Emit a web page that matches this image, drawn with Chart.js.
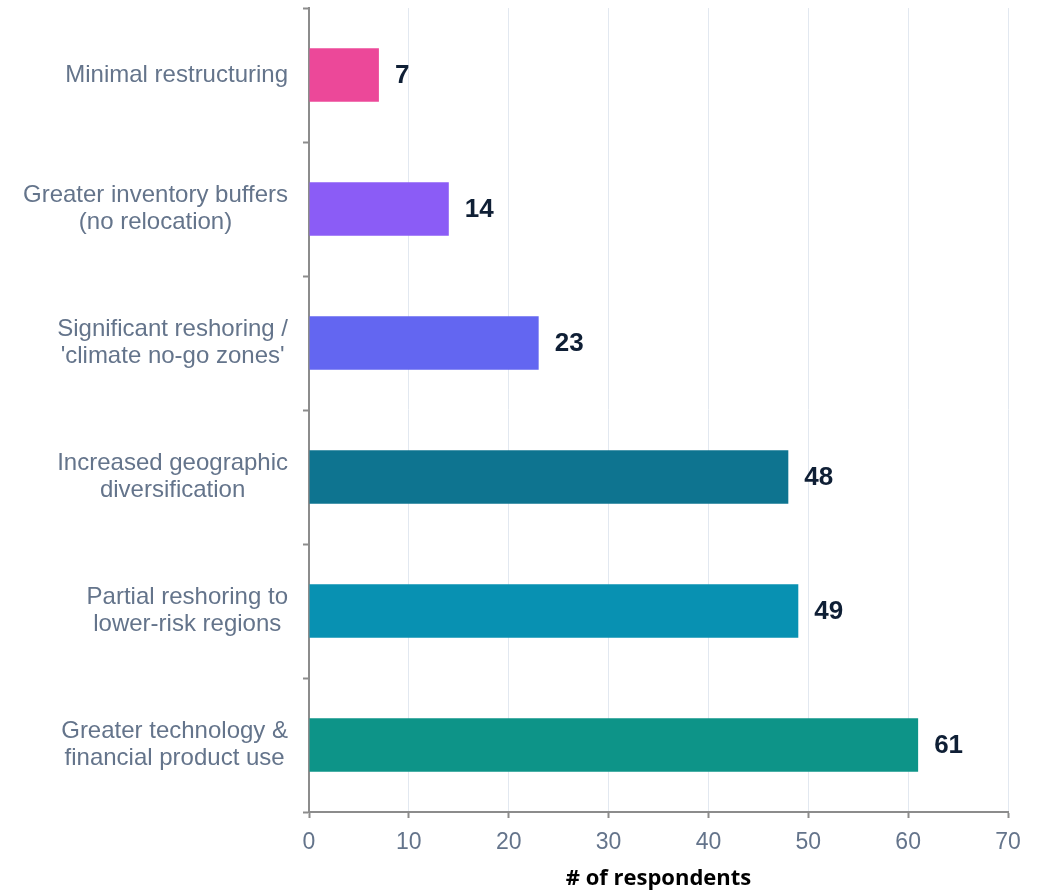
<!DOCTYPE html>
<html>
<head>
<meta charset="utf-8">
<script src="https://cdn.jsdelivr.net/npm/chart.js@4"></script>
<style>
  html, body { margin: 0; padding: 0; background: #fff; }
  #wrap { width: 1043px; height: 892px; }
</style>
</head>
<body>
<div id="wrap"><canvas id="strategyChart"></canvas></div>
<script>
// categories, top to bottom
const categories = [
    ['Minimal restructuring'],
    ['Greater inventory buffers', '(no relocation)'],
    ['Significant reshoring /', "'climate no-go zones'"],
    ['Increased geographic', 'diversification'],
    ['Partial reshoring to', 'lower-risk regions'],
    ['Greater technology &', 'financial product use']
];
const respondents = [7, 14, 23, 48, 49, 61];
const barColors = ['#ec4899', '#8b5cf6', '#6366f1', '#0e7490', '#0891b2', '#0d9488'];
const xTicks = [0, 10, 20, 30, 40, 50, 60, 70];

const axisGray = '#8c8c8c';
const labelGray = '#64748b';
const sansFamily = '"Liberation Sans", Arial, sans-serif';

// category labels: lines centred on each other, block right-aligned to the axis
const categoryLabels = {
    id: 'categoryLabels',
    afterDraw(chart) {
        const ctx = chart.ctx;
        const yScale = chart.scales.y;
        const right = yScale.right - 21;
        const lineH = 27;
        ctx.save();
        ctx.font = '24px ' + sansFamily;
        ctx.fillStyle = labelGray;
        ctx.textAlign = 'center';
        ctx.textBaseline = 'middle';
        categories.forEach(function(lines, i) {
            const yMid = yScale.getPixelForValue(i);
            const w = Math.max.apply(null, lines.map(l => ctx.measureText(l).width));
            const cx = right - w / 2;
            const y0 = yMid - (lines.length - 1) * lineH / 2;
            lines.forEach(function(line, j) {
                ctx.fillText(line, cx, y0 + j * lineH);
            });
        });
        ctx.restore();
    }
};

// value labels to the right of each bar
const valueLabels = {
    id: 'valueLabels',
    afterDatasetsDraw(chart) {
        const ctx = chart.ctx;
        const meta = chart.getDatasetMeta(0);
        ctx.save();
        ctx.font = 'bold 26px ' + sansFamily;
        ctx.fillStyle = '#0f1f35';
        ctx.textAlign = 'left';
        ctx.textBaseline = 'middle';
        meta.data.forEach(function(bar, i) {
            ctx.fillText(respondents[i], bar.x + 16, bar.y + 1);
        });
        ctx.restore();
    }
};

new Chart(document.getElementById('strategyChart'), {
    type: 'bar',
    data: {
        labels: categories,
        datasets: [{
            data: respondents,
            backgroundColor: barColors,
            borderWidth: 0,
            barPercentage: 0.4,
            categoryPercentage: 1.0
        }]
    },
    options: {
        indexAxis: 'y',
        responsive: true,
        maintainAspectRatio: false,
        animation: false,
        layout: { padding: { top: 8, right: 35, left: 0, bottom: 0 } },
        plugins: {
            legend: { display: false },
            tooltip: { enabled: false }
        },
        scales: {
            x: {
                min: 0,
                max: 70,
                afterBuildTicks(scale) {
                    scale.ticks = xTicks.map(v => ({ value: v }));
                },
                afterFit(scale) { scale.height = 80; },
                grid: {
                    color: '#e2e8f0',
                    lineWidth: 1,
                    tickColor: axisGray,
                    tickWidth: 2,
                    tickLength: 6
                },
                border: { color: axisGray, width: 2 },
                ticks: {
                    color: labelGray,
                    padding: 11,
                    font: { family: sansFamily, size: 23 }
                },
                title: {
                    display: true,
                    text: '# of respondents',
                    color: '#000',
                    padding: { top: 4, bottom: 0 },
                    font: { family: '"Open Sans", sans-serif', size: 22, weight: 'bold' }
                }
            },
            y: {
                afterFit(scale) {
                    scale.width = 309;
                    scale.paddingTop = 0;
                    scale.paddingBottom = 0;
                },
                grid: {
                    display: true,
                    drawOnChartArea: false,
                    offset: true,
                    tickColor: axisGray,
                    tickWidth: 2,
                    tickLength: 6
                },
                border: { color: axisGray, width: 2 },
                ticks: { display: false }
            }
        }
    },
    plugins: [valueLabels, categoryLabels]
});
</script>
</body>
</html>
